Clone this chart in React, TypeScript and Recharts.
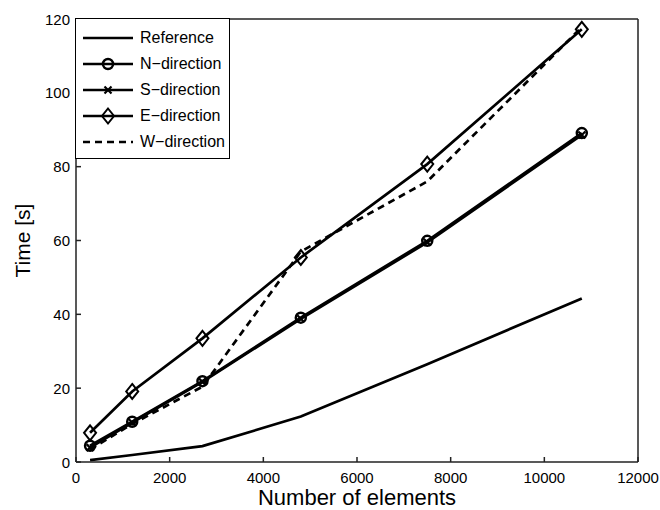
import React from "react";
import { LineChart, Line, XAxis, YAxis, Legend } from "recharts";

// number of elements (x) and solver time in seconds for each direction
const elements = [300, 1200, 2700, 4800, 7500, 10800];
const referenceTime = [0.5, 1.9, 4.3, 12.3, 26.5, 44.3];
const northTime = [4.4, 10.9, 21.9, 39.1, 59.9, 89.1];
const southTime = [3.9, 10.7, 21.7, 38.8, 59.5, 88.6];
const eastTime = [7.9, 19.1, 33.5, 55.4, 80.7, 117.2];
const westTime = [3.4, 10.3, 20.4, 57.0, 76.0, 117.8];

const xTicks = [0, 2000, 4000, 6000, 8000, 10000, 12000];
const yTicks = [0, 20, 40, 60, 80, 100, 120];

const data = elements.map((x, i) => ({
  x,
  reference: referenceTime[i],
  north: northTime[i],
  south: southTime[i],
  east: eastTime[i],
  west: westTime[i],
}));

const FONT = "'Liberation Sans', Arial, Helvetica, sans-serif";
const INK = "#000";
const AXIS = "#222";
const LW = 2.7;

type Marker = "none" | "circle" | "cross" | "diamond";
const seriesOrder = ["reference", "north", "south", "east", "west"];
const markerOf: Record<string, Marker> = {
  reference: "none",
  north: "circle",
  south: "cross",
  east: "diamond",
  west: "none",
};

function MarkerShape({ kind, cx, cy }: { kind: Marker; cx: number; cy: number }) {
  if (kind === "circle") {
    return <circle cx={cx} cy={cy} r={5} fill="none" stroke={INK} strokeWidth={2.5} />;
  }
  if (kind === "diamond") {
    return (
      <path
        d={`M${cx} ${cy - 7.5} L${cx + 6} ${cy} L${cx} ${cy + 7.5} L${cx - 6} ${cy} Z`}
        fill="none"
        stroke={INK}
        strokeWidth={2}
      />
    );
  }
  if (kind === "cross") {
    return (
      <path
        d={`M${cx - 3.5} ${cy - 3.5} L${cx + 3.5} ${cy + 3.5} M${cx + 3.5} ${cy - 3.5} L${cx - 3.5} ${cy + 3.5}`}
        stroke={INK}
        strokeWidth={2.2}
      />
    );
  }
  return null;
}

function dotFor(kind: Marker) {
  return (props: { cx?: number; cy?: number; index?: number }) => {
    const { cx, cy, index } = props;
    if (cx == null || cy == null) return <g key={`${kind}-${index}`} />;
    return (
      <g key={`${kind}-${index}`}>
        <MarkerShape kind={kind} cx={cx} cy={cy} />
      </g>
    );
  };
}

type LegendItem = { value?: string; dataKey?: string };

function LegendBox({ payload }: { payload?: LegendItem[] }) {
  if (!payload) return null;
  const items = [...payload].sort(
    (a, b) => seriesOrder.indexOf(String(a.dataKey)) - seriesOrder.indexOf(String(b.dataKey))
  );
  return (
    <div
      style={{
        boxSizing: "border-box",
        width: 155,
        height: 141,
        border: `1px solid ${INK}`,
        background: "#fff",
        paddingTop: 6,
        fontFamily: FONT,
        fontSize: 16,
        color: INK,
      }}
    >
      {items.map((p) => {
        const key = String(p.dataKey);
        const dashed = key === "west";
        return (
          <div key={key} style={{ display: "flex", alignItems: "center", height: 26 }}>
            <svg width={50} height={18} style={{ marginLeft: 7, overflow: "visible", flex: "none" }}>
              <line
                x1={0}
                y1={9}
                x2={50}
                y2={9}
                stroke={INK}
                strokeWidth={LW}
                strokeDasharray={dashed ? "7 5" : undefined}
              />
              <MarkerShape kind={markerOf[key]} cx={25} cy={9} />
            </svg>
            <span style={{ marginLeft: 7, whiteSpace: "nowrap" }}>{p.value}</span>
          </div>
        );
      })}
    </div>
  );
}

function BottomTick(props: { x?: number; y?: number; payload?: { value: number } }) {
  const { x = 0, y = 0, payload } = props;
  return (
    <text x={x} y={y + 20} textAnchor="middle" dominantBaseline="central" fontSize={15} fontFamily={FONT} fill={INK}>
      {payload?.value}
    </text>
  );
}

function LeftTick(props: { x?: number; y?: number; payload?: { value: number } }) {
  const { x = 0, y = 0, payload } = props;
  return (
    <text x={x - 11} y={y} textAnchor="end" dominantBaseline="central" fontSize={15} fontFamily={FONT} fill={INK}>
      {payload?.value}
    </text>
  );
}

export default function App() {
  return (
    <div style={{ position: "absolute", left: 0, top: 0, background: "#fff" }}>
      <LineChart width={660} height={510} data={data} margin={{ top: 19, right: 22, bottom: 48, left: 76 }}>
        <XAxis
          xAxisId="bottom"
          dataKey="x"
          type="number"
          domain={[0, 12000]}
          ticks={xTicks}
          mirror
          height={30}
          tickSize={5}
          tickMargin={0}
          tick={<BottomTick />}
          stroke={AXIS}
          strokeWidth={1.5}
          label={{
            content: (props: { viewBox?: { x: number; y: number; width: number; height: number } }) => {
              const vb = props.viewBox;
              if (!vb) return null;
              return (
                <text
                  x={vb.x + vb.width / 2}
                  y={vb.y + vb.height + 43}
                  textAnchor="middle"
                  fontSize={22}
                  fontFamily={FONT}
                  fill={INK}
                >
                  Number of elements
                </text>
              );
            },
          }}
        />
        <XAxis
          xAxisId="top"
          orientation="top"
          type="number"
          domain={[0, 12000]}
          ticks={xTicks}
          mirror
          tick={false}
          tickSize={5}
          stroke={AXIS}
          strokeWidth={1.5}
        />
        <YAxis
          yAxisId="left"
          type="number"
          domain={[0, 120]}
          ticks={yTicks}
          mirror
          tickSize={5}
          tickMargin={0}
          tick={<LeftTick />}
          stroke={AXIS}
          strokeWidth={1.5}
          label={{
            content: (props: { viewBox?: { x: number; y: number; height: number } }) => {
              const vb = props.viewBox;
              if (!vb) return null;
              const cx = vb.x - 54;
              const cy = vb.y + vb.height / 2;
              return (
                <text
                  x={cx}
                  y={cy}
                  transform={`rotate(-90 ${cx} ${cy})`}
                  textAnchor="middle"
                  dominantBaseline="central"
                  fontSize={21}
                  fontFamily={FONT}
                  fill={INK}
                >
                  Time [s]
                </text>
              );
            },
          }}
        />
        <YAxis
          yAxisId="right"
          orientation="right"
          type="number"
          domain={[0, 120]}
          ticks={yTicks}
          mirror
          tick={false}
          tickSize={5}
          stroke={AXIS}
          strokeWidth={1.5}
        />
        <Legend
          layout="vertical"
          align="center"
          verticalAlign="middle"
          wrapperStyle={{ top: 18, left: 75, width: 155 }}
          content={(props) => <LegendBox payload={props.payload as LegendItem[]} />}
        />
        <Line
          xAxisId="bottom"
          yAxisId="left"
          name="Reference"
          dataKey="reference"
          stroke={INK}
          strokeWidth={LW}
          dot={false}
          isAnimationActive={false}
        />
        <Line
          xAxisId="bottom"
          yAxisId="left"
          name="N−direction"
          dataKey="north"
          stroke={INK}
          strokeWidth={LW}
          dot={dotFor("circle")}
          isAnimationActive={false}
        />
        <Line
          xAxisId="bottom"
          yAxisId="left"
          name="S−direction"
          dataKey="south"
          stroke={INK}
          strokeWidth={LW}
          dot={dotFor("cross")}
          isAnimationActive={false}
        />
        <Line
          xAxisId="bottom"
          yAxisId="left"
          name="E−direction"
          dataKey="east"
          stroke={INK}
          strokeWidth={LW}
          dot={dotFor("diamond")}
          isAnimationActive={false}
        />
        <Line
          xAxisId="bottom"
          yAxisId="left"
          name="W−direction"
          dataKey="west"
          stroke={INK}
          strokeWidth={LW}
          strokeDasharray="7 5"
          dot={false}
          isAnimationActive={false}
        />
      </LineChart>
    </div>
  );
}
